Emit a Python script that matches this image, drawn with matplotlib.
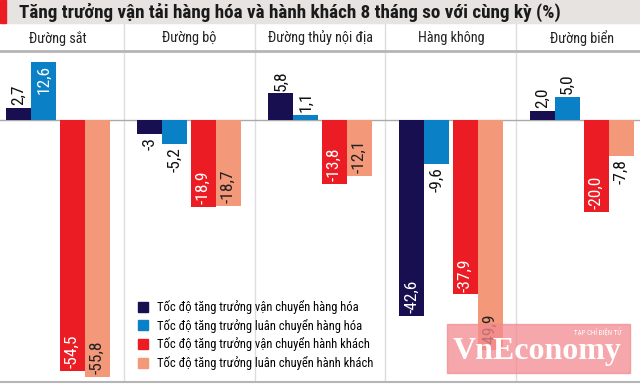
import numpy as np
import matplotlib
matplotlib.use("Agg")
import matplotlib.pyplot as plt
from matplotlib.patches import Patch, Rectangle

# du lieu
categories = ["Đường sắt", "Đường bộ", "Đường thủy nội địa", "Hàng không", "Đường biển"]
van_chuyen_hh = [2.7, -3.0, 5.8, -42.6, 2.0]
luan_chuyen_hh = [12.6, -5.2, 1.1, -9.6, 5.0]
van_chuyen_hk = [-54.5, -18.9, -13.8, -37.9, -20.0]
luan_chuyen_hk = [-55.8, -18.7, -12.1, -49.9, -7.8]
value_labels = [["2,7", "-3", "5,8", "-42,6", "2,0"],
                ["12,6", "-5,2", "1,1", "-9,6", "5,0"],
                ["-54,5", "-18,9", "-13,8", "-37,9", "-20,0"],
                ["-55,8", "-18,7", "-12,1", "-49,9", "-7,8"]]
series_names = ["Tốc độ tăng trưởng vận chuyển hàng hóa",
                "Tốc độ tăng trưởng luân chuyển hàng hóa",
                "Tốc độ tăng trưởng vận chuyển hành khách",
                "Tốc độ tăng trưởng luân chuyển hành khách"]
colors = ["#170f50", "#0a80c6", "#ec1c24", "#f4987a"]
text_in = ["white", "white", "white", "#222222"]

plt.rcParams["font.family"] = ["Roboto Condensed", "DejaVu Sans"]

W, H = 640, 384
fig = plt.figure(figsize=(6.4, 3.84), dpi=100)

def fy(py):
    return 1 - py / H

# khung truc
ax_top, ax_bot = 52, 381
ax = fig.add_axes([0, fy(ax_bot), 1, fy(ax_top) - fy(ax_bot)])
ax.set_xlim(-0.443, 4.443)
ax.set_ylim(-56.7, 14.8)
ax.axis("off")

x = np.arange(len(categories))
width = 0.19
offsets = [-0.30, -0.11, 0.11, 0.30]
all_series = [van_chuyen_hh, luan_chuyen_hh, van_chuyen_hk, luan_chuyen_hk]

# duong phan cach
sep_top = 1 + (ax_top - 23) / (ax_bot - ax_top)
for i in range(len(categories) - 1):
    ax.axvline(i + 0.5, ymin=0, ymax=sep_top, color="#dddddd", lw=1, clip_on=False, zorder=0)
ax.axhline(0, color="#aaaaaa", lw=1, zorder=1)

pad = 0.6
fs_val = 12.5
for s, vals in enumerate(all_series):
    ax.bar(x + offsets[s], vals, width=width, color=colors[s], zorder=2)
    for i, v in enumerate(vals):
        lab = value_labels[s][i]
        xx = x[i] + offsets[s]
        if abs(v) >= 10:
            if v > 0:
                ax.text(xx, v - pad, lab, rotation=90, ha="center", va="top",
                        color=text_in[s], fontsize=fs_val, zorder=3)
            else:
                ax.text(xx, v + pad, lab, rotation=90, ha="center", va="bottom",
                        color=text_in[s], fontsize=fs_val, zorder=3)
        else:
            if v > 0:
                ax.text(xx, v + pad, lab, rotation=90, ha="center", va="bottom",
                        color="#111111", fontsize=fs_val, zorder=3)
            else:
                ax.text(xx, v - pad, lab, rotation=90, ha="center", va="top",
                        color="#111111", fontsize=fs_val, zorder=3)

# tieu de
fig.patches.append(Rectangle((0, fy(23)), 1, 23 / H, transform=fig.transFigure,
                             color="#e6e3e0", zorder=0))
fig.patches.append(Rectangle((0, fy(23)), 6 / W, 23 / H, transform=fig.transFigure,
                             color="#ec1c24", zorder=1))
fig.text(19 / W, fy(12), "Tăng trưởng vận tải hàng hóa và hành khách 8 tháng so với cùng kỳ (%)",
         fontsize=13.8, fontweight="bold", color="#1a1a1a", va="center", ha="left")

for i, c in enumerate(categories):
    ax.text(x[i], 1 + 14 / (ax_bot - ax_top), c, transform=ax.get_xaxis_transform(),
            ha="center", va="center", fontsize=10.3, color="#222222")

fig.add_artist(plt.Line2D([0, 1], [fy(51), fy(51)], transform=fig.transFigure,
                          color="#b5b5b5", lw=2))
fig.add_artist(plt.Line2D([0, 1], [fy(382), fy(382)], transform=fig.transFigure,
                          color="#b5b5b5", lw=1.5))

# chu thich
handles = [Patch(color=c) for c in colors]
ax.legend(handles, series_names, loc="upper left", bbox_to_anchor=(138 / W, fy(300)),
          bbox_transform=fig.transFigure, frameon=False, fontsize=9,
          handlelength=0.8, handleheight=0.85, handletextpad=0.7, labelspacing=0.38,
          borderpad=0, borderaxespad=0)

# logo
fig.patches.append(Rectangle((447 / W, fy(373)), 183 / W, 49 / H, transform=fig.transFigure,
                             color="#f28a8f", alpha=0.75, zorder=5))
fig.text(537 / W, fy(352), "VnEconomy", fontsize=23, color="white", ha="center", va="center",
         family="Liberation Serif", fontweight="bold", zorder=6)
fig.text(622 / W, fy(333), "TẠP CHÍ ĐIỆN TỬ", fontsize=5, color="white", ha="right", va="center",
         zorder=6)

fig.savefig("out.png", dpi=100)
